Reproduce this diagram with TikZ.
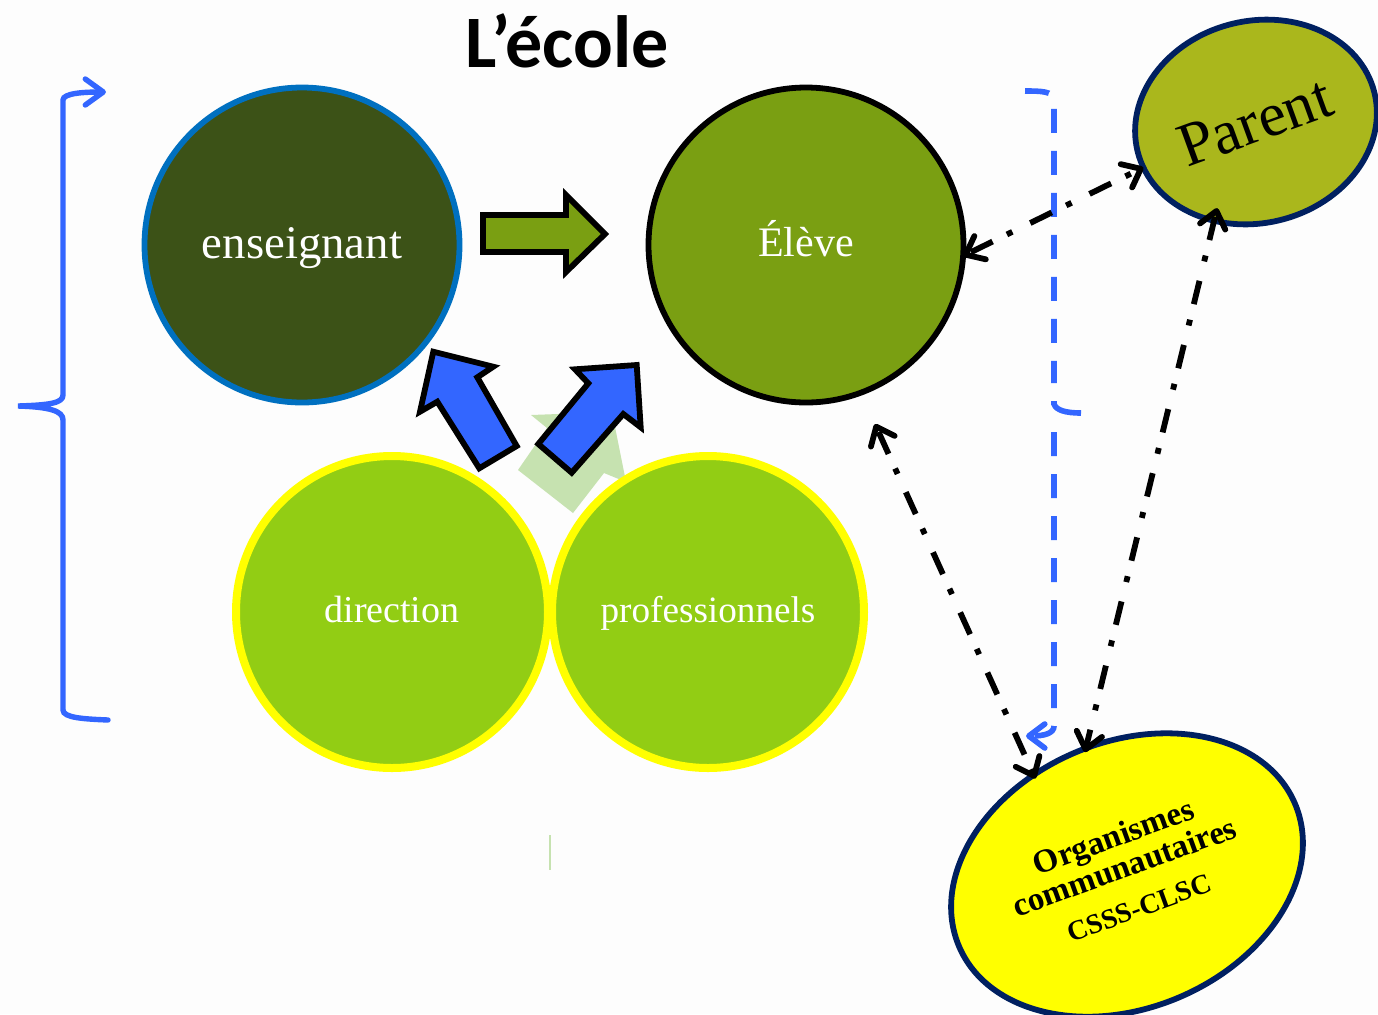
\documentclass[tikz,border=0pt]{standalone}
\usepackage{fontspec}
\setmainfont{Liberation Serif}
\newfontfamily\titlefont{Carlito}
\usetikzlibrary{shapes.geometric,arrows.meta}
\definecolor{bleu}{HTML}{3366FF}
\definecolor{marine}{HTML}{002060}
\definecolor{foret}{HTML}{3C5217}
\definecolor{olive}{HTML}{7A9F12}
\definecolor{vif}{HTML}{92CD14}
\definecolor{parentc}{HTML}{AAB71C}
\definecolor{pale}{HTML}{C6E2B0}
\definecolor{fond}{HTML}{FDFDFD}
\definecolor{jaune}{HTML}{FFFF00}
\definecolor{azur}{HTML}{0070C0}
\tikzset{
 x=0.5pt,y=0.5pt,
 disc/.style={circle,minimum size=157.5pt,inner sep=0pt,outer sep=0pt,line width=2.9pt,text=white,text depth=0pt},
 discb/.style={disc,fill=vif,draw=jaune,line width=4pt,minimum size=156pt,text height=10pt},
 ovale/.style={ellipse,inner sep=0pt,outer sep=0pt,line width=2.9pt,draw=marine},
 bloc/.style={draw=black,line width=2.9pt,miter limit=10},
 lien/.style={line width=2.9pt,dash pattern=on 12pt off 8pt on 3pt off 10pt,dash phase=31.5pt,{Straight Barb[length=8pt,width=13pt,round]}-{Straight Barb[length=8pt,width=13pt,round]}},
 accolade/.style={draw=bleu,line width=2.7pt,line cap=round,-{Straight Barb[length=9pt,width=13pt,round]}},
 tirets/.style={draw=bleu,line width=2.8pt,dash pattern=on 12pt off 9pt},
}
\newcommand{\fs}[1]{\fontsize{#1}{#1}\selectfont}
\begin{document}
\begin{tikzpicture}
\useasboundingbox (0,0) rectangle (1378,-1014);
\clip (0,0) rectangle (1378,-1014);
\fill[fond] (0,0) rectangle (1378,-1014);
% pale arrow and thin mark
\fill[pale] (531,-415) -- (612,-412) -- (626,-482) -- (604,-473) -- (573,-513) -- (518,-470) -- (547,-428) -- cycle;
\draw[pale,line width=0.6pt] (550,-835) -- (550,-870);
% circles
\node[disc,fill=foret,draw=azur,text height=13pt] (ens) at (302,-245) {\fs{23.4}enseignant};
\node[disc,fill=olive,draw=black,text height=11.5pt] (eleve) at (806,-245) {\fs{21}Élève};
\node[discb] (dir) at (392,-612) {\fs{19}direction};
\node[discb] (pro) at (708,-612) {\fs{18.6}professionnels};
% ellipses
\node[ovale,fill=parentc,minimum width=122pt,minimum height=101pt,rotate=14] (parent) at (1256,-122) {};
\node[rotate=20] (tparent) at (1255,-122) {\fs{31}Parent};
\node[ovale,fill=jaune,minimum width=182.5pt,minimum height=133pt,rotate=23] (org) at (1127,-875) {};
\node[rotate=20,align=center,font=\bfseries,inner sep=0pt] (torg) at (1126,-871) {\fs{16.5}Organismes\\[0pt]\fs{16.5}communautaires\\[9pt]\fs{14}CSSS-CLSC};
% title
\node[inner sep=0pt] (titre) at (567,-41) {\titlefont\bfseries\fs{37}L’école};
% block arrows
\coordinate (a) at (483,-215);
\draw[bloc,fill=olive] (a) -- (566,-215) -- (566,-195) -- (605,-234) -- (566,-272) -- (566,-252) -- (483,-252) -- cycle;
\draw[bloc,fill=bleu] (433.3,-351.7) -- (493.3,-366.7) -- (477.3,-377.3) -- (516.7,-446) -- (479.3,-468.3) -- (437.3,-401.7) -- (420,-411.7) -- cycle;
\draw[bloc,fill=bleu] (636.7,-365) -- (575,-369.3) -- (588.3,-383.3) -- (538.3,-444) -- (571.7,-472.7) -- (623.3,-414) -- (640.7,-427.3) -- cycle;
% blue braces
\coordinate (bg1) at (106,-92);
\coordinate (bg2) at (108,-720);
\coordinate (bgm) at (18,-406);
\draw[accolade] (bg2) .. controls (85,-719) and (63,-718) .. (63,-710) -- (63,-420) .. controls (63,-411) and (50,-407) .. (bgm) .. controls (50,-405) and (63,-403) .. (63,-395) -- (63,-100) .. controls (63,-93) and (85,-92) .. (bg1);
\coordinate (bd1) at (1025,-91);
\coordinate (bd2) at (1054,-432);
\coordinate (bd3) at (1026,-736);
\coordinate (bdm) at (1081,-413);
\coordinate (bd4) at (1054,-401);
\draw[tirets] (bd1) .. controls (1040,-91) and (1054,-91) .. (1054,-100) -- (1054,-383);
\draw[draw=bleu,line width=2.8pt] (bd4) -- (1054,-404) .. controls (1056,-410) and (1065,-413) .. (bdm);
\draw[tirets,-{Straight Barb[length=8pt,width=12pt,round]}] (bd2) -- (1054,-726) .. controls (1054,-733) and (1045,-736) .. (bd3);
% links
\coordinate (libre) at (875,-424);
\draw[lien] (eleve.-4) -- (parent.188);
\draw[lien,shorten <=-6.5pt,shorten >=-2pt] (parent.233) -- (org.85.7);
\draw[lien,shorten >=-2pt] (libre) -- (org.110.4);
\end{tikzpicture}
\end{document}
